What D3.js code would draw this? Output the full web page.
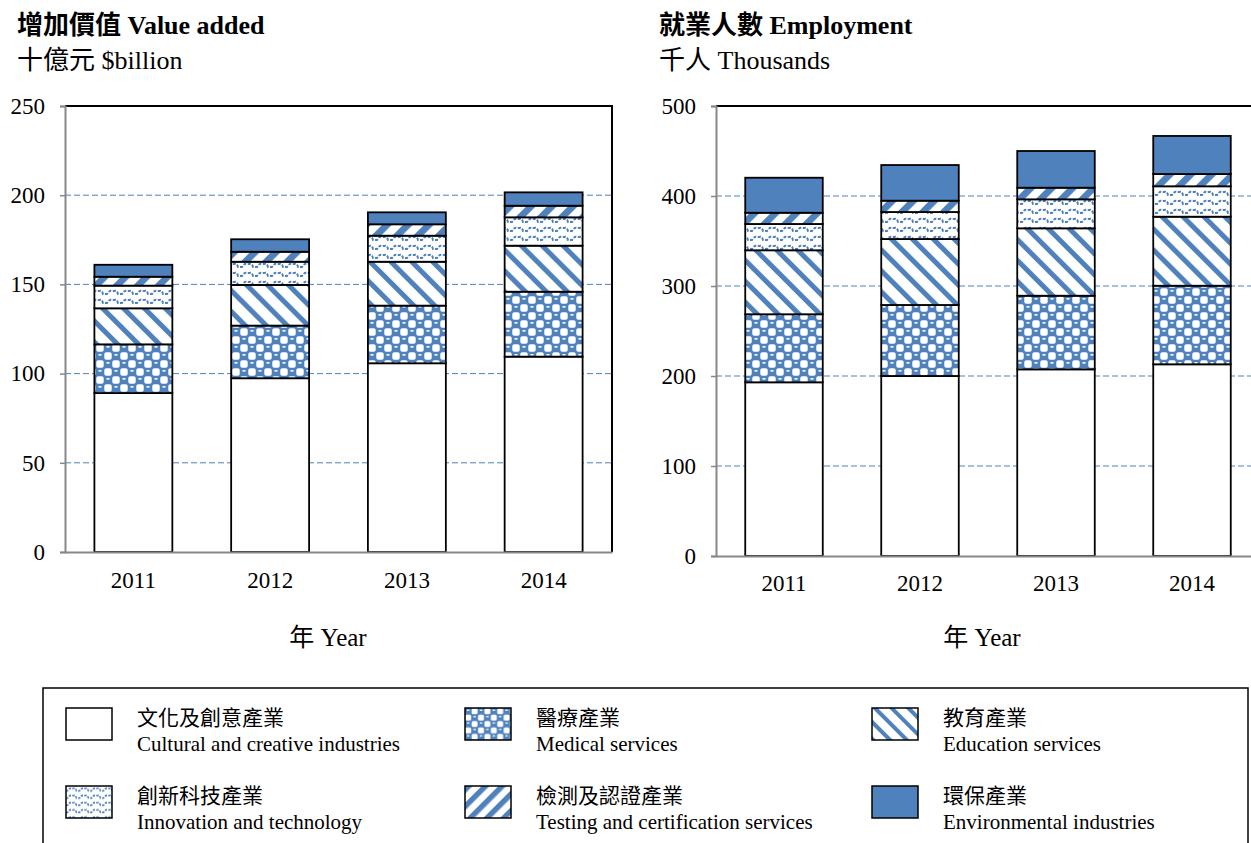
<!DOCTYPE html>
<html>
<head>
<meta charset="utf-8">
<title>Six industries - Value added and Employment</title>
<script src="https://d3js.org/d3.v7.min.js"></script>
<style>
  body { margin: 0; background: #fff; }
  text { font-family: "Liberation Serif", "Times New Roman", "Noto Sans CJK TC", serif; fill: #000; }
</style>
</head>
<body>
<div id="chart"></div>
<script>

var years = ["2011", "2012", "2013", "2014"];

// value added, $billion
var vaCultural    = [89.1, 97.4, 105.8, 109.5];
var vaMedical     = [27.3, 29.5, 32.3, 36.4];
var vaEducation   = [20.2, 22.8, 24.6, 25.8];
var vaInnovation  = [12.7, 13.0, 14.6, 15.9];
var vaTesting     = [5.0, 5.6, 6.4, 6.5];
var vaEnvironment = [6.7, 7.0, 6.7, 7.5];

// employment, thousands
var emCultural    = [193.0, 200.0, 207.4, 213.0];
var emMedical     = [75.6, 78.9, 81.8, 87.3];
var emEducation   = [71.1, 73.3, 74.9, 76.7];
var emInnovation  = [29.2, 30.0, 32.2, 33.8];
var emTesting     = [12.5, 12.6, 12.9, 13.6];
var emEnvironment = [38.9, 39.6, 40.8, 42.3];

var vaTicks = [0, 50, 100, 150, 200, 250];
var emTicks = [0, 100, 200, 300, 400, 500];

var keys = ["cultural", "medical", "education", "innovation", "testing", "environment"];
var namesZh = ["文化及創意產業", "醫療產業", "教育產業", "創新科技產業", "檢測及認證產業", "環保產業"];
var namesEn = ["Cultural and creative industries", "Medical services", "Education services",
               "Innovation and technology", "Testing and certification services", "Environmental industries"];

var blue = "#4F81BD";

var svg = d3.select("#chart").append("svg")
    .attr("width", 1251)
    .attr("height", 843);

var defs = svg.append("defs");

// hatch patterns, s = scale (legend swatches use a smaller tile)
function addPatterns(suffix, s) {
    // medical: blue checker with rounded white cells
    var p = defs.append("pattern").attr("id", "medical" + suffix)
        .attr("patternUnits", "userSpaceOnUse")
        .attr("width", 16 * s).attr("height", 16 * s);
    p.append("rect").attr("width", 16 * s).attr("height", 16 * s).attr("fill", blue);
    [[8, 0], [0, 8]].forEach(function(c) {
        p.append("rect").attr("x", (c[0] + 0.3) * s).attr("y", (c[1] + 0.3) * s)
            .attr("width", 7.4 * s).attr("height", 7.4 * s).attr("rx", 2 * s)
            .attr("fill", "#fff");
    });
    [[0, 0], [8, 8]].forEach(function(c) {
        p.append("rect").attr("x", (c[0] + 2.5) * s).attr("y", (c[1] + 2) * s)
            .attr("width", 3 * s).attr("height", 1.6 * s).attr("fill", "#fff");
    });

    p = defs.append("pattern").attr("id", "education" + suffix)
        .attr("patternUnits", "userSpaceOnUse")
        .attr("width", 14.8 * s).attr("height", 14.8 * s)
        .attr("patternTransform", "rotate(-45)");
    p.append("rect").attr("width", 14.8 * s).attr("height", 14.8 * s).attr("fill", "#fff");
    p.append("rect").attr("width", 5 * s).attr("height", 14.8 * s).attr("fill", blue);

    p = defs.append("pattern").attr("id", "testing" + suffix)
        .attr("patternUnits", "userSpaceOnUse")
        .attr("width", 14.8 * s).attr("height", 14.8 * s)
        .attr("patternTransform", "rotate(45)");
    p.append("rect").attr("width", 14.8 * s).attr("height", 14.8 * s).attr("fill", "#fff");
    p.append("rect").attr("width", 6.8 * s).attr("height", 14.8 * s).attr("fill", blue);

    // innovation: dashed waves
    p = defs.append("pattern").attr("id", "innovation" + suffix)
        .attr("patternUnits", "userSpaceOnUse")
        .attr("width", 15 * s).attr("height", 9 * s);
    p.append("rect").attr("width", 15 * s).attr("height", 9 * s).attr("fill", "#fff");
    p.append("path")
        .attr("d", "M0," + 6 * s + " L" + 2 * s + "," + 6 * s +
                   " Q" + 4.5 * s + "," + 2 * s + " " + 7 * s + "," + 3 * s +
                   " L" + 9.5 * s + "," + 3 * s +
                   " Q" + 12 * s + "," + 2 * s + " " + 13 * s + "," + 6 * s +
                   " L" + 15 * s + "," + 6 * s)
        .attr("fill", "none").attr("stroke", blue)
        .attr("stroke-width", 2 * s)
        .attr("stroke-dasharray", (3 * s) + "," + (1.5 * s));
}
addPatterns("", 1);
addPatterns("L", 0.8);

function fillFor(key, suffix) {
    if (key === "cultural") return "#fff";
    if (key === "environment") return blue;
    return "url(#" + key + suffix + ")";
}

function buildTable(series) {
    return years.map(function(y, i) {
        var row = {year: y};
        keys.forEach(function(k, j) { row[k] = series[j][i]; });
        return row;
    });
}

function drawPanel(opt) {
    var table = buildTable(opt.series);
    var stacked = d3.stack().keys(keys)(table);

    var x = d3.scaleBand()
        .domain(years)
        .range([opt.left, opt.right])
        .paddingInner(0.43)
        .paddingOuter(0.215);
    var y = d3.scaleLinear()
        .domain([0, opt.max])
        .range([opt.bottom, opt.top]);

    // gridlines
    svg.append("g").selectAll("line")
        .data(opt.ticks.slice(1, -1))
        .join("line")
        .attr("x1", opt.left).attr("x2", opt.right)
        .attr("y1", function(d) { return y(d); })
        .attr("y2", function(d) { return y(d); })
        .attr("stroke", blue)
        .attr("stroke-width", 1)
        .attr("stroke-dasharray", "6,3");

    // bars
    svg.append("g").selectAll("g")
        .data(stacked)
        .join("g")
        .attr("fill", function(d) { return fillFor(d.key, ""); })
        .selectAll("rect")
        .data(function(d) { return d; })
        .join("rect")
        .attr("x", function(d) { return x(d.data.year); })
        .attr("y", function(d) { return y(d[1]); })
        .attr("width", x.bandwidth())
        .attr("height", function(d) { return y(d[0]) - y(d[1]); })
        .attr("stroke", "#000")
        .attr("stroke-width", 1.8);

    // plot border: top and right black
    svg.append("path")
        .attr("d", "M" + opt.left + "," + opt.top + "H" + opt.right + "V" + opt.bottom)
        .attr("fill", "none")
        .attr("stroke", "#000")
        .attr("stroke-width", 2);

    // y axis
    var yAxis = svg.append("g")
        .attr("transform", "translate(" + opt.left + ",0)")
        .call(d3.axisLeft(y).tickValues(opt.ticks).tickSize(5).tickPadding(15).tickFormat(d3.format("d")));
    yAxis.select(".domain").attr("stroke", "#878787").attr("stroke-width", 2);
    yAxis.selectAll(".tick line").attr("stroke", "#878787").attr("stroke-width", 1.5);
    yAxis.selectAll("text").style("font-size", "23px").attr("fill", "#000");

    // x axis
    var xAxis = svg.append("g")
        .attr("transform", "translate(0," + opt.bottom + ")")
        .call(d3.axisBottom(x).tickSize(0).tickPadding(opt.xPad));
    xAxis.select(".domain").attr("stroke", "#878787").attr("stroke-width", 2);
    xAxis.selectAll("text").style("font-size", "23px").attr("fill", "#000");

    svg.append("text")
        .attr("x", opt.titleX).attr("y", 34)
        .style("font-size", "26px").style("font-weight", "bold")
        .text(opt.title);
    svg.append("text")
        .attr("x", opt.titleX).attr("y", 69)
        .style("font-size", "26px")
        .text(opt.unit);
    svg.append("text")
        .attr("x", opt.xTitleX).attr("y", 646)
        .attr("text-anchor", "middle")
        .style("font-size", "25px")
        .text("年 Year");
}

drawPanel({
    series: [vaCultural, vaMedical, vaEducation, vaInnovation, vaTesting, vaEnvironment],
    ticks: vaTicks, max: 250,
    left: 65, right: 612, top: 106, bottom: 552, xPad: 20,
    title: "增加價值 Value added", unit: "十億元 $billion",
    titleX: 17, xTitleX: 328
});

drawPanel({
    series: [emCultural, emMedical, emEducation, emInnovation, emTesting, emEnvironment],
    ticks: emTicks, max: 500,
    left: 716, right: 1260, top: 106, bottom: 556, xPad: 19,
    title: "就業人數 Employment", unit: "千人 Thousands",
    titleX: 659, xTitleX: 982
});

// legend
svg.append("rect")
    .attr("x", 43).attr("y", 688)
    .attr("width", 1205).attr("height", 170)
    .attr("fill", "none")
    .attr("stroke", "#000")
    .attr("stroke-width", 1.5);

var colX = [66, 465, 872];
var rowY = [708, 786];

var legend = svg.append("g").selectAll("g")
    .data(keys)
    .join("g")
    .attr("transform", function(d, i) {
        return "translate(" + colX[i % 3] + "," + rowY[Math.floor(i / 3)] + ")";
    });

legend.append("rect")
    .attr("width", 46).attr("height", 32)
    .attr("fill", function(d) { return fillFor(d, "L"); })
    .attr("stroke", "#000")
    .attr("stroke-width", 1.5);

legend.append("text")
    .attr("x", 71).attr("y", 17)
    .style("font-size", "21px")
    .text(function(d, i) { return namesZh[i]; });

legend.append("text")
    .attr("x", 71).attr("y", 43)
    .style("font-size", "21px")
    .text(function(d, i) { return namesEn[i]; });

</script>
</body>
</html>
